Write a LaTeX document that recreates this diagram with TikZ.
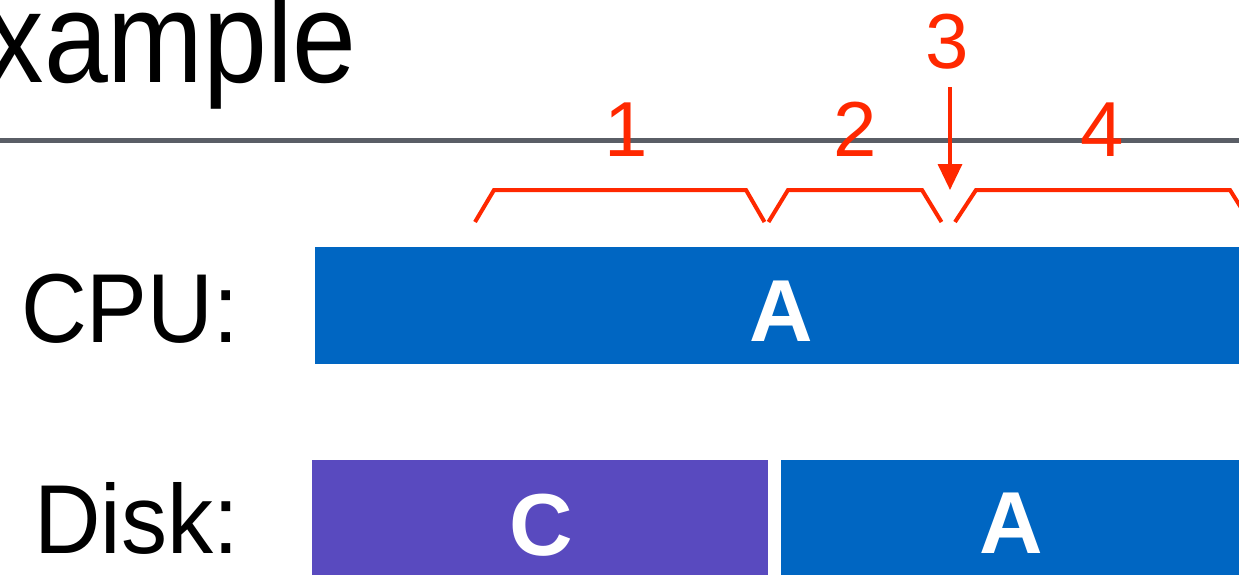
\documentclass[tikz,border=0pt]{standalone}
\usepackage{fontspec}
\usepackage{graphicx}
\setmainfont{Liberation Sans}
\usetikzlibrary{arrows.meta}
\definecolor{cpublue}{RGB}{0,102,194}
\definecolor{diskpurple}{RGB}{89,74,191}
\definecolor{accent}{RGB}{255,40,0}
\definecolor{rulegrey}{RGB}{90,94,102}
\newcommand{\narrowtext}[2]{\scalebox{#1}[1]{#2}}
\begin{document}
\begin{tikzpicture}[x=1pt,y=-1pt,
  bar/.style={inner sep=0pt, outer sep=0pt, anchor=north west, draw=none},
  bartext/.style={anchor=base, inner sep=0pt, text=white, font=\fontsize{88}{88}\selectfont\bfseries},
  rowlabel/.style={anchor=base east, inner sep=0pt, font=\fontsize{98}{98}\selectfont},
  num/.style={anchor=base, inner sep=0pt, text=accent, font=\fontsize{78}{78}\selectfont},
  bracket/.style={draw=accent, line width=4pt, line join=miter},
  pointer/.style={draw=accent, line width=3.5pt, -{Triangle[width=24pt,length=26pt]}}]
\useasboundingbox (0,0) rectangle (1239,574);
% title
\node[anchor=base east, inner sep=0pt] (title) at (357,82)
  {\narrowtext{0.89}{\fontsize{129}{129}\selectfont Example}};
\draw[rulegrey, line width=4.5pt] (-10,140.5) -- (1250,140.5);
% row labels
\node[rowlabel] (cpulabel) at (239,342) {\narrowtext{0.93}{CPU:}};
\node[rowlabel] (disklabel) at (239,553) {\narrowtext{0.94}{Disk:}};
% bars
\node[bar, fill=cpublue, minimum width=945pt, minimum height=117pt] (cpubar) at (315,247) {};
\node[bar, fill=diskpurple, minimum width=456pt, minimum height=130pt] (diskc) at (312,460) {};
\node[bar, fill=cpublue, minimum width=480pt, minimum height=130pt] (diska) at (781,460) {};
\node[bartext] (cpuA) at (781,341) {A};
\node[bartext] (diskC) at (541,555) {C};
\node[bartext] (diskA) at (1011,553) {A};
% braces
\draw[bracket] (475,222) -- (494,190) -- (746,190) -- (764.5,222);
\draw[bracket] (768.5,222) -- (788,190) -- (922,190) -- (941.5,222);
\draw[bracket] (955,222) -- (976,190) -- (1230,190) -- (1250,222);
% numbers
\node[num] (n1) at (626,156) {1};
\node[num] (n2) at (855.5,156) {2};
\node[num] (n3) at (947.5,68) {3};
\node[num] (n4) at (1102,156) {4};
% arrow
\coordinate (a3start) at (950,87);
\coordinate (a3end) at (950,190);
\draw[pointer] (a3start) -- (a3end);
\end{tikzpicture}
\end{document}
